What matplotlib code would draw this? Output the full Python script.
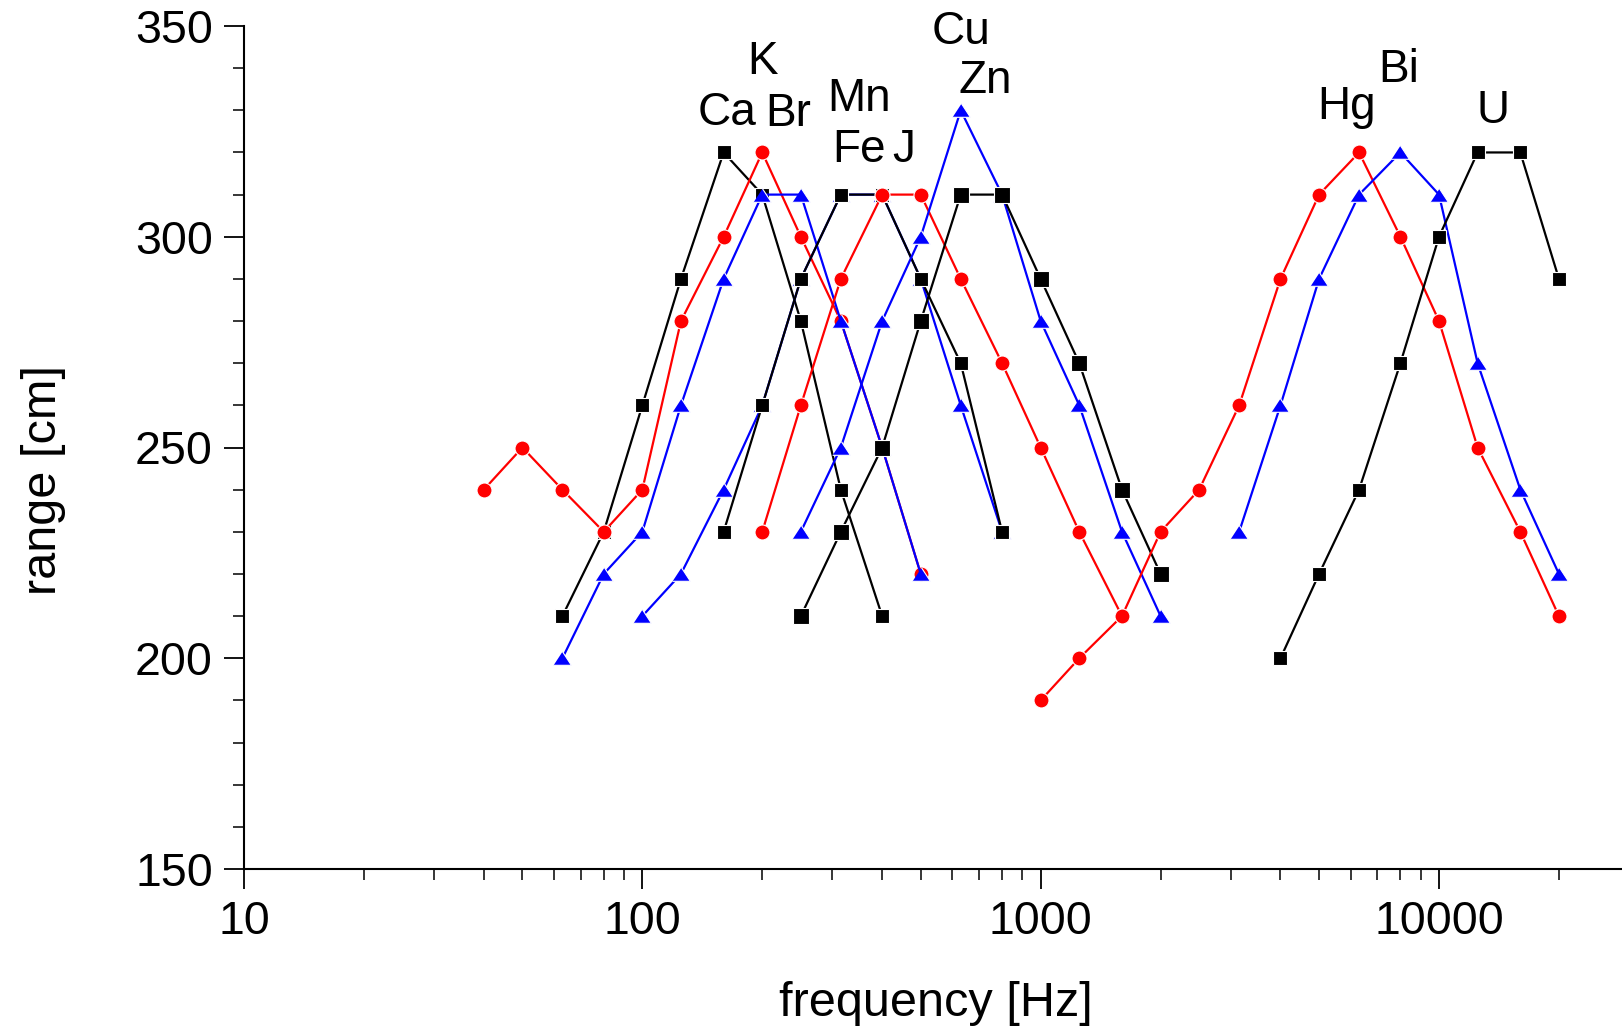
import matplotlib
matplotlib.use('Agg')
import matplotlib.pyplot as plt
from matplotlib.ticker import FixedLocator, NullFormatter, FixedFormatter, MultipleLocator

# ---- data (frequency [Hz], range [cm]) ----
ca_f = [63, 80, 100, 125, 160, 200, 250, 315, 400]
ca_r = [210, 230, 260, 290, 320, 310, 280, 240, 210]
k_f = [40, 50, 63, 80, 100, 125, 160, 200, 250, 315, 400, 500]
k_r = [240, 250, 240, 230, 240, 280, 300, 320, 300, 280, 250, 220]
br_f = [63, 80, 100, 125, 160, 200, 250, 315, 400, 500]
br_r = [200, 220, 230, 260, 290, 310, 310, 280, 250, 220]
fe_f = [100, 125, 160, 200, 250, 315, 400, 500, 630, 800]
fe_r = [210, 220, 240, 260, 290, 310, 310, 290, 260, 230]
mn_f = [160, 200, 250, 315, 400, 500, 630, 800]
mn_r = [230, 260, 290, 310, 310, 290, 270, 230]
j_f = [200, 250, 315, 400, 500, 630, 800, 1000, 1250, 1600]
j_r = [230, 260, 290, 310, 310, 290, 270, 250, 230, 210]
cu_f = [250, 315, 400, 500, 630, 800, 1000, 1250, 1600, 2000]
cu_r = [230, 250, 280, 300, 330, 310, 280, 260, 230, 210]
zn_f = [250, 315, 400, 500, 630, 800, 1000, 1250, 1600, 2000]
zn_r = [210, 230, 250, 280, 310, 310, 290, 270, 240, 220]
hg_f = [1000, 1250, 1600, 2000, 2500, 3150, 4000, 5000, 6300, 8000, 10000, 12500, 16000, 20000]
hg_r = [190, 200, 210, 230, 240, 260, 290, 310, 320, 300, 280, 250, 230, 210]
bi_f = [3150, 4000, 5000, 6300, 8000, 10000, 12500, 16000, 20000]
bi_r = [230, 260, 290, 310, 320, 310, 270, 240, 220]
u_f = [4000, 5000, 6300, 8000, 10000, 12500, 16000, 20000]
u_r = [200, 220, 240, 270, 300, 320, 320, 290]

element_names = ["Ca", "K", "Br", "Mn", "Fe", "J", "Cu", "Zn", "Hg", "Bi", "U"]

x_ticks = [10, 100, 1000, 10000]
x_tick_labels = ["10", "100", "1000", "10000"]
y_ticks = [150, 200, 250, 300, 350]
y_tick_labels = ["150", "200", "250", "300", "350"]

# ---- styling ----
plt.rcParams['font.family'] = ['Liberation Sans', 'DejaVu Sans']
FS = 33

fig = plt.figure(figsize=(16.22, 10.33), dpi=100)
ax = fig.add_axes([244/1622, (1033-869)/1033, (1622-244)/1622, (869-26)/1033])

tri = [(-1, -0.765), (1, -0.765), (0, 0.765)]
LW = 1.6
EW = 0.8
common = dict(lw=LW, markeredgewidth=EW, markeredgecolor='white')
black_sq = dict(color='black', marker='s', markersize=8.6 + EW, **common)
big_sq = dict(color='black', marker='s', markersize=11 + EW, **common)
red_c = dict(color='#ff0000', marker='o', markersize=10 + EW, **common)
blue_t = dict(color='#0000ff', marker=tri, markersize=12 + EW, **common)

ax.plot(ca_f, ca_r, **black_sq)
ax.plot(k_f, k_r, **red_c)
ax.plot(br_f, br_r, **blue_t)
ax.plot(fe_f, fe_r, **blue_t)
ax.plot(mn_f, mn_r, **black_sq)
ax.plot(j_f, j_r, **red_c)
ax.plot(cu_f, cu_r, **blue_t)
ax.plot(zn_f, zn_r, **big_sq)
ax.plot(hg_f, hg_r, **red_c)
ax.plot(bi_f, bi_r, **blue_t)
ax.plot(u_f, u_r, **black_sq)

# element labels (baseline positions in data coords)
label_pos = [(163, 326.4), (200, 338.7), (233, 326.2), (349, 329.9), (349, 317.7),
             (452, 317.7), (631, 345.8), (724, 334.0), (5870, 327.9), (7925, 336.8),
             (13650, 327.1)]
for name, (lx, ly) in zip(element_names, label_pos):
    ax.text(lx, ly, name, ha='center', va='baseline', fontsize=FS, clip_on=False)

ax.set_xscale('log')
ax.set_xlim(10, 28800)
ax.set_ylim(150, 350)

ax.xaxis.set_major_locator(FixedLocator(x_ticks))
ax.xaxis.set_major_formatter(FixedFormatter(x_tick_labels))
minor = [m * 10**e for e in range(1, 5) for m in range(2, 10)]
ax.xaxis.set_minor_locator(FixedLocator(minor))
ax.xaxis.set_minor_formatter(NullFormatter())

ax.yaxis.set_major_locator(FixedLocator(y_ticks))
ax.yaxis.set_major_formatter(FixedFormatter(y_tick_labels))
ax.yaxis.set_minor_locator(MultipleLocator(10))

for s in ['top', 'right']:
    ax.spines[s].set_visible(False)
for s in ['left', 'bottom']:
    ax.spines[s].set_linewidth(1.5)

ax.tick_params(which='major', direction='out', length=14.4, width=1.3, labelsize=FS + 0.5, pad=8)
ax.tick_params(which='minor', direction='out', length=8, width=1.1)

ax.set_xlabel('frequency [Hz]', fontsize=35)
ax.set_ylabel('range [cm]', fontsize=35)
ax.xaxis.set_label_coords(0.502, -0.133)
ax.yaxis.set_label_coords(-0.129, 0.461)

fig.savefig('out.png', dpi=100)
